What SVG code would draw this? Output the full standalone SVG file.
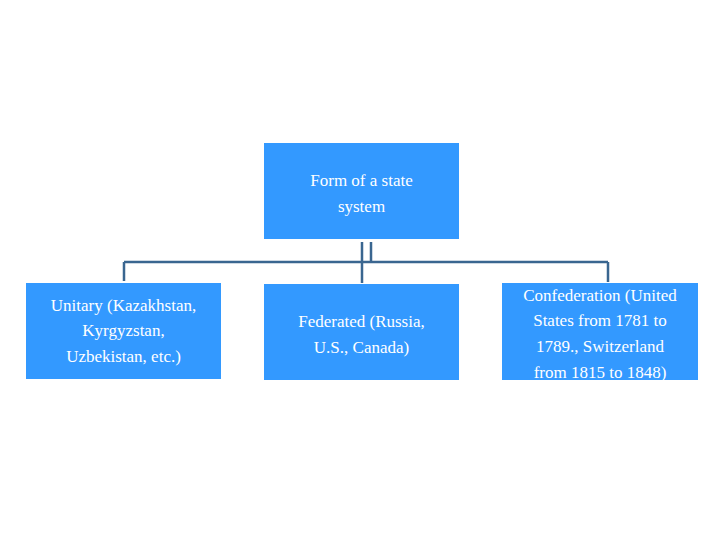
<svg xmlns="http://www.w3.org/2000/svg" width="720" height="540" viewBox="0 0 720 540">
<style>
.box{fill:#3399ff}
.t{font-family:"Liberation Serif",serif;font-size:17px;fill:#fff;text-anchor:middle}
.c{stroke:#3a6690;stroke-width:2.5;fill:none}
</style>
<rect width="720" height="540" fill="#fff"/>
<g id="connectors">
<path class="c" d="M362 242V283M371 242V262M124 262H608M124 262V281M608 262V282"/>
</g>
<g id="root"><rect class="box" x="264" y="143" width="195" height="96"/>
<text class="t" x="361.5" y="186">Form of a state</text><text class="t" x="361.5" y="212">system</text></g>
<g id="unitary"><rect class="box" x="26" y="283" width="195" height="96"/>
<text class="t" x="123.5" y="311">Unitary (Kazakhstan,</text><text class="t" x="123.5" y="336">Kyrgyzstan,</text><text class="t" x="123.5" y="362">Uzbekistan, etc.)</text></g>
<g id="federated"><rect class="box" x="264" y="284" width="195" height="96"/>
<text class="t" x="361.5" y="327">Federated (Russia,</text><text class="t" x="361.5" y="353">U.S., Canada)</text></g>
<g id="confederation"><rect class="box" x="502" y="283" width="196" height="97"/>
<text class="t" x="600" y="301">Confederation (United</text><text class="t" x="600" y="326">States from 1781 to</text><text class="t" x="600" y="352">1789., Switzerland</text><text class="t" x="600" y="378">from 1815 to 1848)</text></g>
</svg>
